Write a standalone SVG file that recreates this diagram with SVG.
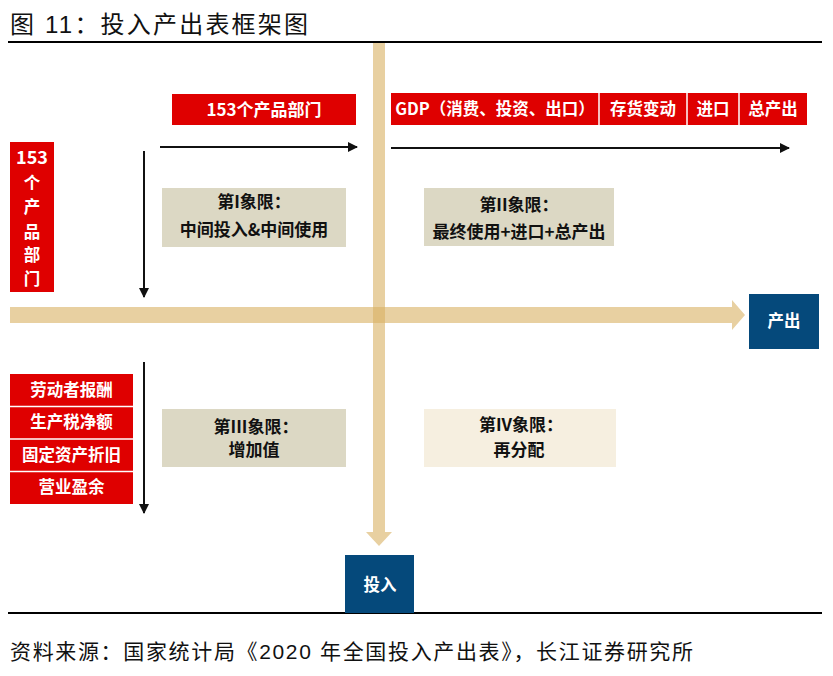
<svg xmlns="http://www.w3.org/2000/svg" width="833" height="676" viewBox="0 0 833 676">
<defs>
<style>
.title{font-family:"Liberation Sans","Noto Sans CJK SC",sans-serif;font-size:24px;fill:#111}
.src{font-family:"Liberation Sans","Noto Sans CJK SC",sans-serif;font-size:21px;fill:#111}
.red{fill:#df0000}
.blue{fill:#05497b}
.wt{font-family:"Noto Sans CJK SC",sans-serif;font-size:16.5px;font-weight:bold;fill:#fff;text-anchor:middle}
.bt{font-family:"Noto Sans CJK SC",sans-serif;font-size:17px;font-weight:bold;fill:#111;text-anchor:middle}
.q{fill:#dcd8c4}
.q4{fill:#f6efe0}
.band{fill:#d9b062;opacity:0.6}
.arr{stroke:#111;stroke-width:2;fill:none;marker-end:url(#ah)}
.sep{stroke:#fff;stroke-width:1.5}
</style>
<marker id="ah" viewBox="0 0 10 10" refX="9" refY="5" markerWidth="5" markerHeight="5" orient="auto" markerUnits="strokeWidth">
<path d="M0,0 L10,5 L0,10 z" fill="#111"/>
</marker>
</defs>
<rect width="833" height="676" fill="#fff"/>
<text class="title" x="10" y="33" textLength="298" lengthAdjust="spacing">图  11：投入产出表框架图</text>
<line x1="8" y1="42" x2="822" y2="42" stroke="#000" stroke-width="2.2"/>
<line x1="8" y1="613" x2="822" y2="613" stroke="#000" stroke-width="2.2"/>
<text class="src" x="10" y="659" textLength="683" lengthAdjust="spacing">资料来源：国家统计局《2020 年全国投入产出表》，长江证券研究所</text>

<g id="axes">
<path class="band" d="M373,43 H385 V532 H392 L379,546 L366,532 H373 Z"/>
<path class="band" d="M10,307 H732 V300 L745,315 L732,330 V323 H10 Z"/>
</g>

<g id="connectors">
<line class="arr" x1="160" y1="147" x2="357" y2="147"/>
<line class="arr" x1="391" y1="148" x2="789" y2="148"/>
<line class="arr" x1="144" y1="151" x2="144" y2="297"/>
<line class="arr" x1="144" y1="362" x2="144" y2="513"/>
</g>

<g id="top-sectors">
<rect class="red" x="172" y="94" width="184" height="31"/>
<text class="wt" x="264" y="116" style="font-size:17px">153个产品部门</text>
</g>

<g id="top-final">
<rect class="red" x="391" y="93" width="416" height="32"/>
<line class="sep" x1="599" y1="93" x2="599" y2="125"/>
<line class="sep" x1="687" y1="93" x2="687" y2="125"/>
<line class="sep" x1="739" y1="93" x2="739" y2="125"/>
<text class="wt" x="495" y="115">GDP（消费、投资、出口）</text>
<text class="wt" x="643" y="115">存货变动</text>
<text class="wt" x="713" y="115">进口</text>
<text class="wt" x="773" y="115">总产出</text>
</g>

<g id="left-sectors">
<rect class="red" x="10" y="142" width="44" height="150"/>
<text class="wt" x="32" y="164" style="font-size:18px">153</text>
<text class="wt" x="32" y="189">个</text>
<text class="wt" x="32" y="213">产</text>
<text class="wt" x="32" y="238">品</text>
<text class="wt" x="32" y="261">部</text>
<text class="wt" x="32" y="285">门</text>
</g>

<g id="left-value-added">
<rect class="red" x="10" y="374" width="123" height="130"/>
<line class="sep" x1="10" y1="406.5" x2="133" y2="406.5"/>
<line class="sep" x1="10" y1="439" x2="133" y2="439"/>
<line class="sep" x1="10" y1="471.5" x2="133" y2="471.5"/>
<text class="wt" x="71.5" y="396">劳动者报酬</text>
<text class="wt" x="71.5" y="428">生产税净额</text>
<text class="wt" x="71.5" y="461">固定资产折旧</text>
<text class="wt" x="71.5" y="493">营业盈余</text>
</g>

<g id="q1">
<rect class="q" x="162" y="188" width="184" height="59"/>
<text class="bt" x="254" y="208">第I象限：</text>
<text class="bt" x="254" y="236">中间投入&amp;中间使用</text>
</g>

<g id="q2">
<rect class="q" x="424" y="188" width="190" height="58"/>
<text class="bt" x="519" y="211">第II象限：</text>
<text class="bt" x="519" y="238">最终使用+进口+总产出</text>
</g>

<g id="q3">
<rect class="q" x="162" y="409" width="184" height="58"/>
<text class="bt" x="256" y="433">第III象限：</text>
<text class="bt" x="254" y="456">增加值</text>
</g>

<g id="q4">
<rect class="q4" x="424" y="409" width="192" height="58"/>
<text class="bt" x="521" y="431">第IV象限：</text>
<text class="bt" x="519" y="456">再分配</text>
</g>

<g id="output">
<rect class="blue" x="749" y="294" width="70" height="55"/>
<text class="wt" x="784" y="327">产出</text>
</g>

<g id="input">
<rect class="blue" x="345" y="555" width="69" height="58"/>
<text class="wt" x="380" y="591">投入</text>
</g>
</svg>
